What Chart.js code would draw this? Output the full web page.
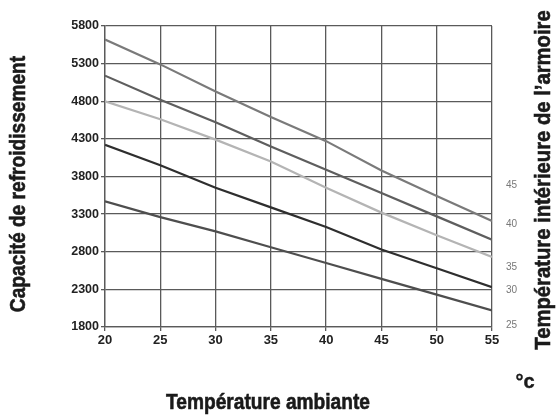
<!DOCTYPE html>
<html lang="fr">
  <head>
    <meta charset="UTF-8" />
    <title>Capacité de refroidissement</title>
    <script src="https://cdn.jsdelivr.net/npm/chart.js@4.4.1/dist/chart.umd.min.js"></script>
    <style>
      html, body { margin: 0; padding: 0; background: #fff; }
      #wrap { width: 558px; height: 418px; position: relative; }
    </style>
  </head>
  <body>
    <div id="wrap"><canvas id="chart"></canvas></div>

    <script>
      // ambient temperature (°C)
      const temps = [20, 25, 30, 35, 40, 45, 50, 55];

      // cooling capacity curves, top to bottom
      const curveA = [5620, 5290, 4930, 4590, 4270, 3880, 3540, 3210];
      const curveB = [5140, 4820, 4520, 4200, 3890, 3580, 3270, 2960];
      const curveC = [4800, 4560, 4290, 4000, 3650, 3320, 3020, 2730];
      const curveD = [4220, 3950, 3650, 3390, 3130, 2830, 2580, 2330];
      const curveE = [3470, 3260, 3070, 2860, 2650, 2440, 2230, 2020];

      // right hand labels (internal cabinet temperature) and where they sit
      const rightLabels = ['45', '40', '35', '30', '25'];
      const rightLabelPos = [3690, 3160, 2600, 2290, 1820];

      const curves = [curveA, curveB, curveC, curveD, curveE];
      const colors = ['#7a7a7a', '#5e5e5e', '#b4b4b4', '#2e2e2e', '#4e4e4e'];

      const tickFont = '"Liberation Sans", Arial, sans-serif';

      // axis titles in a bold face, squeezed horizontally
      function narrowText(c, txt, x, y, rot, sx) {
        c.save();
        c.translate(x, y);
        if (rot) c.rotate(-Math.PI / 2);
        c.scale(sx, 1);
        c.fillText(txt, 0, 0);
        c.strokeText(txt, 0, 0);
        c.restore();
      }

      const titles = {
        id: 'titles',
        afterDraw(chart) {
          const c = chart.ctx;
          c.save();
          c.fillStyle = '#1a1a1a';
          c.strokeStyle = '#1a1a1a';
          c.lineWidth = 0.6;
          c.font = 'bold 22px ' + tickFont;
          c.textAlign = 'center';
          c.textBaseline = 'middle';

          narrowText(c, 'Température ambiante', 268, 403, false, 0.87);
          narrowText(c, 'Capacité de refroidissement', 19, 184, true, 0.87);
          narrowText(c, "Température intérieure de l’armoire", 544, 180, true, 0.92);

          c.lineWidth = 0.4;
          c.font = 'bold 20px ' + tickFont;
          c.fillText('°c', 525, 382);
          c.strokeText('°c', 525, 382);
          c.restore();
        }
      };

      new Chart(document.getElementById('chart'), {
        type: 'line',
        data: {
          datasets: curves.map((vals, i) => ({
            data: vals.map((v, j) => ({ x: temps[j], y: v })),
            borderColor: colors[i],
            borderWidth: 2.2,
            pointRadius: 0,
            tension: 0,
            fill: false,
            yAxisID: 'y'
          }))
        },
        options: {
          responsive: true,
          maintainAspectRatio: false,
          animation: false,
          layout: { padding: { top: 26, right: 36, bottom: 0, left: 0 } },
          plugins: { legend: { display: false }, tooltip: { enabled: false } },
          scales: {
            x: {
              type: 'linear',
              min: 20,
              max: 55,
              ticks: {
                stepSize: 5,
                color: '#222',
                padding: 2,
                callback: v => String(v),
                font: { family: tickFont, size: 13, weight: 'bold' }
              },
              grid: { color: '#5a5a5a', lineWidth: 1.3, tickLength: 4 },
              border: { color: '#5a5a5a', width: 1.3 },
              afterFit(scale) { scale.height = 91; }
            },
            y: {
              position: 'left',
              min: 1800,
              max: 5800,
              ticks: {
                stepSize: 500,
                color: '#222',
                padding: 2,
                callback: v => String(v),
                font: { family: tickFont, size: 12.5, weight: 'bold' }
              },
              grid: { color: '#5a5a5a', lineWidth: 1.3, tickLength: 4 },
              border: { color: '#5a5a5a', width: 1.3 },
              afterFit(scale) { scale.width = 105; }
            },
            yr: {
              position: 'right',
              min: 1800,
              max: 5800,
              afterBuildTicks(scale) {
                scale.ticks = rightLabelPos.map(v => ({ value: v }));
              },
              ticks: {
                color: '#777',
                padding: 14,
                callback: (v, i) => rightLabels[i],
                font: { family: tickFont, size: 10 }
              },
              grid: { display: false, drawTicks: false },
              border: { display: false },
              afterFit(scale) { scale.width = 30; }
            }
          }
        },
        plugins: [titles]
      });
    </script>
  </body>
</html>
